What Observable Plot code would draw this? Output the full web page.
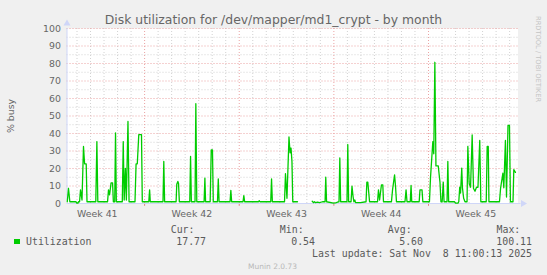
<!DOCTYPE html>
<html><head><meta charset="utf-8">
<script src="https://cdn.jsdelivr.net/npm/d3@7"></script>
<script src="https://cdn.jsdelivr.net/npm/@observablehq/plot@0.6"></script>
<style>
html,body{margin:0;padding:0;background:#f0f0f0;}
#wrap{position:relative;width:547px;height:275px;background:#f0f0f0;font-family:"DejaVu Sans",sans-serif;color:#666;overflow:hidden}
#wrap svg{position:absolute;left:0;top:0;}
.t{position:absolute;white-space:pre;line-height:10px;}
.mono{font-family:"DejaVu Sans Mono",monospace;font-size:9.9px;color:#5a5a5a;}
</style></head><body><div id="wrap"></div>
<script>
// ---- texts ----
const titleText = "Disk utilization for /dev/mapper/md1_crypt - by month";
const yLabel = "% busy";
const sideText = "RRDTOOL / TOBI OETIKER";
const seriesName = "Utilization";
const legendHeaders = ["Cur:", "Min:", "Avg:", "Max:"];
const legendValues = ["17.77", "0.54", "5.60", "100.11"];
const lastUpdate = "Last update: Sat Nov  8 11:00:13 2025";
const footer = "Munin 2.0.73";

// ---- axes (day numbers counted from 2025-10-01 = day 1) ----
const weekLabels = ["Week 41", "Week 42", "Week 43", "Week 44", "Week 45"];
const weekLabelDays = [8.5, 15.5, 22.5, 29.5, 36.5];
const weekStartDays = [12, 19, 26, 33];
const gridDays = [7,8,9,10,11,13,14,15,16,17,18,20,21,22,23,24,25,27,28,29,30,31,32,34,35,36,37,38,39];
const yTicks = [0,10,20,30,40,50,60,70,80,90,100];
const yMinor = [5,15,25,35,45,55,65,75,85,95];
const yMajor = [10,20,30,40,50,60,70,80,90,100];
const viewDays = [6.26, 39.62];

// ---- series: time (day number) and % busy ----
const days = [
 6.28,6.37,6.47,6.93,6.97,7.08,7.11,7.19,7.26,7.37,7.48,7.56,7.68,7.74,
 8.39,8.47,8.54,9.26,9.33,9.41,9.52,9.63,9.69,9.79,9.85,9.91,
 10.35,10.42,10.49,10.58,10.65,10.77,10.85,11.29,11.37,11.46,11.57,11.77,11.83,
 12.31,12.37,12.42,13.36,13.42,13.48,14.33,14.38,14.46,14.51,14.57,
 15.34,15.40,15.46,15.73,15.79,15.86,16.40,16.46,16.51,16.85,16.93,17.02,17.08,
 17.39,17.45,17.51,18.32,18.38,18.44,19.28,19.34,19.40,20.43,20.48,20.53,
 21.33,21.39,21.45,22.35,22.42,22.53,22.68,22.76,22.83,22.90,22.96,23.31,23.35,
 24.40,24.49,24.57,24.64,24.79,24.94,25.16,25.35,25.40,25.46,
 25.97,26.12,26.27,26.38,26.44,26.50,26.97,27.03,27.09,27.27,27.34,27.42,27.48,27.55,27.60,27.97,
 28.38,28.44,28.51,28.64,29.23,29.30,29.38,29.52,29.62,29.67,
 30.26,30.34,30.49,30.56,30.63,31.26,31.34,31.41,31.65,31.71,31.76,
 32.31,32.37,32.52,32.58,33.07,33.15,33.32,33.39,33.47,33.55,33.72,33.85,33.92,34.01,34.09,34.15,
 34.37,34.43,34.49,34.92,35.00,35.18,35.24,35.31,35.37,35.46,35.51,35.60,35.70,
 35.85,35.91,36.01,36.11,36.23,36.33,36.44,36.55,36.66,36.79,36.87,
 37.27,37.34,37.42,37.47,38.25,38.33,38.50,38.57,38.69,38.77,38.88,38.99,39.06,39.25,39.31,39.43
];
const util = [
 1,8.7,1,1,0.3,0.3,1,1,7.8,2,32.6,22.7,22.7,1,
 1,35.4,1,1,7.8,5,11.8,11.8,1,1,40.4,1,
 1,35.4,2,20,2,46.9,1,1,22.7,22.7,39.4,39.4,1,
 1,7.8,1,1,24,1,1,11,12.6,11.5,1,
 1,26.9,1,1,57,1,1,14.5,1,1,30.7,30.7,1,
 1,14,1,1,7.5,1,1,4.5,1,1,1.6,1,
 1,14,1,1,17,3,38,29,31.7,24,1,1,null,
 1.3,0.5,1,0.5,0.8,0.5,1,1,15,1,
 0.2,0.3,0.8,1,26,1,1,33.7,1,1,9.9,4,1,2,0.5,0.5,
 1,12.2,12.2,1,1,7.8,2,10.7,10.7,1,
 1,7.8,16.4,10,1,1,7.8,1,1,10.3,1,
 1,7.8,7.8,1,1,15,35.4,28.4,80.7,21.5,21.5,12,1,1,12.2,1,
 1,24,1,1,0.2,0.2,1,9.3,6,20.2,9,3,1,
 1,32.6,11.4,9.3,39.2,8.6,7,9.3,9.3,36,1,
 1,32.6,32.6,1,1,8.6,17.3,9,36,3.7,44.6,44.6,1,1,19.4,17.8
];

const toDate = d => new Date(Date.UTC(2025, 9, 1) + (d - 1) * 864e5);
const data = days.map((d, i) => ({t: toDate(d), v: util[i]}));
const xDomain = viewDays.map(toDate);
const weekText = weekLabelDays.map((d, i) => ({t: toDate(d), label: weekLabels[i]}));

const AX = "#cfd6f8";
const MINOR = "#d2d2d2";
const MAJOR = "#eba3a3";

const chart = Plot.plot({
  width: 547, height: 222,
  marginLeft: 66.5, marginRight: 29.5, marginTop: 28, marginBottom: 19,
  style: {background: "transparent", fontFamily: "DejaVu Sans, sans-serif", fontSize: "9.4px", color: "#666", overflow: "visible"},
  x: {type: "utc", domain: xDomain, axis: null},
  y: {domain: [0, 100], axis: null},
  marks: [
    Plot.frame({fill: "white", stroke: "none"}),
    Plot.ruleY(yMinor, {stroke: MINOR, strokeDasharray: "1,2"}),
    Plot.ruleX(gridDays.map(toDate), {stroke: MINOR, strokeDasharray: "1,2"}),
    Plot.ruleY(yMajor, {stroke: MAJOR, strokeDasharray: "1,2"}),
    Plot.ruleX(weekStartDays.map(toDate), {stroke: MAJOR, strokeDasharray: "1,2"}),
    Plot.ruleX(weekStartDays.map(toDate), {y1: 0, y2: -1.6, stroke: "#e08080"}),
    Plot.ruleX([xDomain[0]], {y1: 0, y2: 100, stroke: AX, insetTop: -3}),
    Plot.ruleY([0], {stroke: AX, insetRight: -3}),
    Plot.dot([{t: xDomain[0], v: 100}], {x: "t", y: "v", symbol: "triangle", r: 2.6, fill: AX, stroke: "none", dy: -5}),
    Plot.dot([{t: xDomain[1], v: 0}], {x: "t", y: "v", symbol: "triangle", r: 2.6, rotate: 90, fill: AX, stroke: "none", dx: 5}),
    Plot.line(data, {x: "t", y: "v", stroke: "#00cc00", strokeWidth: 1.3}),
    Plot.axisY({ticks: yTicks, tickSize: 0, tickPadding: 6, label: null, fill: "#666"}),
    Plot.text(weekText, {x: "t", y: () => 0, text: "label", dy: 10, fill: "#666"})
  ]
});

const wrap = document.getElementById("wrap");
wrap.appendChild(chart);

function addText(txt, cls, css) {
  const el = document.createElement("div");
  el.className = "t " + (cls || "");
  el.textContent = txt;
  Object.assign(el.style, css);
  wrap.appendChild(el);
  return el;
}
addText(titleText, "", {left: "0px", width: "547px", textAlign: "center", top: "13px", fontSize: "12.4px", lineHeight: "13px", color: "#666"});
addText(yLabel, "", {left: "11px", top: "116px", fontSize: "9.4px", transform: "translate(-50%,-50%) rotate(-90deg)", color: "#666"});
addText(sideText, "", {left: "533.5px", top: "15.5px", fontSize: "6.7px", lineHeight: "7px", writingMode: "vertical-rl", color: "#c4c4c4"});

const sq = document.createElement("div");
Object.assign(sq.style, {position: "absolute", left: "14px", top: "238.5px", width: "5.5px", height: "5.5px", background: "#00cc00"});
wrap.appendChild(sq);
addText(seriesName, "mono", {left: "26px", top: "236.8px"});
const headerLeft = [170.7, 279.8, 387.8, 496.5];
const valueRight = [206, 315, 423, 532];
legendHeaders.forEach((h, i) => addText(h, "mono", {left: headerLeft[i] + "px", top: "224.6px"}));
legendValues.forEach((v, i) => addText(v, "mono", {right: (547 - valueRight[i]) + "px", top: "236.8px"}));
addText(lastUpdate, "mono", {right: "15px", top: "249px"});
addText(footer, "", {left: "0px", width: "545px", textAlign: "center", top: "261.5px", fontSize: "7.5px", lineHeight: "9px", color: "#b8b8b8"});
</script></body></html>
